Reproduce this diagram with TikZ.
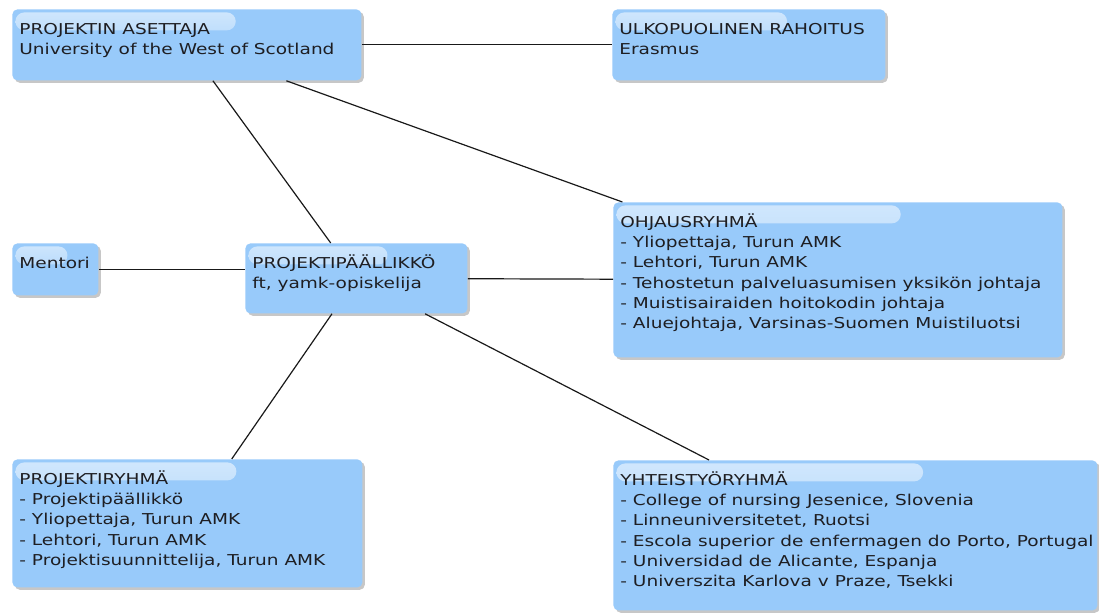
\documentclass[tikz,border=0pt]{standalone}
\usepackage{fontspec}
\setmainfont[FakeStretch=1.235]{DejaVu Sans}
\usepackage{tikz}
\usetikzlibrary{calc,shadows}
\definecolor{unitfill}{RGB}{152,202,250}
\definecolor{unittext}{RGB}{30,30,34}
\definecolor{linkcolour}{RGB}{25,25,25}
\newlength{\pxu}
\setlength{\pxu}{0.5pt}
% box text: width and height in pixels, then the lines
\newcommand{\unittext}[3]{\parbox[t][#2\pxu][t]{#1\pxu}{\raggedright\strut #3}}

\begin{document}
\begin{tikzpicture}[x=0.5pt,y=-0.5pt,
    unit/.style={anchor=north west,fill=unitfill,rounded corners=2.5pt,
      inner xsep=3.5pt,inner ysep=5.5pt,text=unittext,
      font=\fontsize{7.5pt}{10.1pt}\selectfont,
      drop shadow={shadow xshift=1.2pt,shadow yshift=-1.2pt,fill=black,opacity=0.22},
      path picture={\shade[top color=white!55!unitfill,bottom color=unitfill,rounded corners=4.5pt]
        ($(path picture bounding box.north west)+(1.5pt,-1.5pt)$) rectangle
        ($(path picture bounding box.north west)!0.64!(path picture bounding box.north east)+(0,-10.5pt)$);}},
    link/.style={draw=linkcolour,line width=0.6pt}]
  \useasboundingbox (0,0) rectangle (1099,613);
  \node[unit] (asettaja) at (12,9)
    {\unittext{335}{49}{PROJEKTIN ASETTAJA\\University of the West of Scotland}};
  \node[unit] (rahoitus) at (612,9)
    {\unittext{259}{49}{ULKOPUOLINEN RAHOITUS\\Erasmus}};
  \node[unit] (ohjaus) at (613,202)
    {\unittext{435}{133}{OHJAUSRYHMÄ\\- Yliopettaja, Turun AMK\\- Lehtori, Turun AMK\\
      - Tehostetun palveluasumisen yksikön johtaja\\- Muistisairaiden hoitokodin johtaja\\
      - Aluejohtaja, Varsinas-Suomen Muistiluotsi}};
  \node[unit] (mentori) at (12,243) {\unittext{72}{30}{Mentori}};
  \node[unit] (paallikko) at (245,243)
    {\unittext{208}{48}{PROJEKTIPÄÄLLIKKÖ\\ft, yamk-opiskelija}};
  \node[unit] (ryhma) at (12,459)
    {\unittext{336}{106}{PROJEKTIRYHMÄ\\- Projektipäällikkö\\- Yliopettaja, Turun AMK\\
      - Lehtori, Turun AMK\\- Projektisuunnittelija, Turun AMK}};
  \node[unit] (yhteistyo) at (613,460)
    {\unittext{470}{128}{YHTEISTYÖRYHMÄ\\- College of nursing Jesenice, Slovenia\\
      - Linneuniversitetet, Ruotsi\\\mbox{- Escola superior de enfermagen do Porto, Portugal}\\
      - Universidad de Alicante, Espanja\\- Universzita Karlova v Praze, Tsekki}};
  % links
  \draw[link] (asettaja) -- (rahoitus);
  \draw[link] (asettaja) -- (paallikko);
  \draw[link] (asettaja) -- (ohjaus);
  \draw[link] (mentori.east) -- (mentori.east -| paallikko.west);
  \draw[link] (paallikko) -- (ohjaus);
  \draw[link] (paallikko) -- (ryhma);
  \draw[link] (paallikko) -- (yhteistyo);
\end{tikzpicture}
\end{document}
